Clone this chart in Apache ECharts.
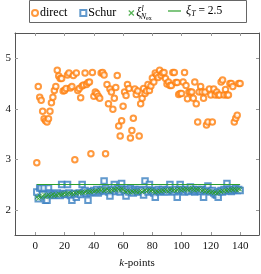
<!DOCTYPE html>
<html><head><meta charset="utf-8">
<script src="https://cdn.jsdelivr.net/npm/echarts@6/dist/echarts.min.js"></script>
<style>html,body{margin:0;padding:0;background:#fff}#c{width:261px;height:274px}</style>
</head><body><div id="c"></div>
<script>
const kStart = 1;
const xTicks = [0, 20, 40, 60, 80, 100, 120, 140];
const yTicks = [2, 3, 4, 5];
const xiT = 2.5;
const direct = [2.93,4.44,4.23,4.17,3.95,3.80,3.76,3.74,3.80,3.95,
4.12,4.23,4.36,4.44,4.76,4.65,4.60,4.60,4.35,4.36,
4.40,4.67,4.71,4.41,4.44,4.66,2.99,4.71,4.36,4.40,
4.22,4.45,4.47,4.71,4.48,4.52,4.53,3.11,4.72,4.25,
4.33,4.30,4.25,4.21,4.71,4.72,4.67,3.11,4.48,4.10,
4.39,4.33,3.99,4.21,4.42,4.66,3.66,3.46,3.76,4.05,
4.33,4.26,4.48,4.40,3.42,3.57,3.81,4.39,4.28,4.35,
3.46,4.10,4.21,4.40,4.30,4.35,4.48,4.36,4.45,4.61,
4.53,4.71,4.67,4.62,4.76,4.66,4.71,4.72,4.60,4.49,
4.53,4.46,4.46,4.72,4.72,4.52,4.52,4.28,4.30,4.30,
4.53,4.72,4.46,4.20,4.33,4.33,4.33,4.21,4.53,4.10,
3.74,4.33,4.44,4.33,4.21,4.33,3.68,3.74,4.39,4.27,
3.74,4.39,4.27,4.33,4.27,4.27,4.53,4.57,4.27,4.38,
4.27,4.27,4.50,4.50,4.44,3.74,3.81,3.87,4.50,4.50];
const schur = [2.35,2.22,2.43,2.43,2.30,2.43,2.19,2.19,2.43,2.33,
2.30,2.28,2.31,2.29,2.33,2.30,2.28,2.50,2.32,2.30,
2.31,2.50,2.33,2.28,2.19,2.30,2.32,2.25,2.31,2.33,
2.30,2.50,2.34,2.38,2.32,2.19,2.35,2.33,2.36,2.38,
2.35,2.40,2.33,2.36,2.38,2.40,2.57,2.42,2.37,2.35,
2.27,2.38,2.40,2.50,2.36,2.42,2.38,2.35,2.52,2.40,
2.37,2.27,2.40,2.35,2.42,2.38,2.33,2.40,2.37,2.35,
2.40,2.36,2.38,2.29,2.57,2.40,2.35,2.50,2.38,2.36,
2.33,2.25,2.38,2.40,2.35,2.37,2.40,2.36,2.38,2.35,
2.40,2.50,2.37,2.38,2.35,2.40,2.25,2.38,2.50,2.40,
2.37,2.35,2.40,2.38,2.36,2.45,2.38,2.40,2.35,2.37,
2.40,2.38,2.36,2.40,2.25,2.38,2.40,2.47,2.37,2.35,
2.38,2.33,2.30,2.29,2.25,2.36,2.38,2.35,2.40,2.37,
2.52,2.38,2.40,2.36,2.38,2.40,2.42,2.38,2.40,2.38];
const xiNex = [2.25,2.22,2.28,2.24,2.27,2.30,2.25,2.28,2.30,2.26,
2.29,2.31,2.27,2.30,2.28,2.32,2.30,2.29,2.31,2.33,
2.30,2.32,2.34,2.31,2.33,2.30,2.34,2.32,2.35,2.33,
2.34,2.36,2.33,2.35,2.37,2.34,2.36,2.35,2.38,2.36,
2.37,2.39,2.36,2.40,2.38,2.41,2.37,2.39,2.42,2.38,
2.36,2.40,2.38,2.41,2.39,2.43,2.40,2.38,2.42,2.40,
2.37,2.35,2.38,2.36,2.34,2.37,2.35,2.38,2.36,2.34,
2.36,2.38,2.35,2.37,2.39,2.36,2.38,2.40,2.37,2.39,
2.36,2.34,2.37,2.35,2.38,2.36,2.39,2.37,2.40,2.38,
2.36,2.39,2.41,2.38,2.40,2.37,2.39,2.42,2.40,2.38,
2.41,2.39,2.42,2.40,2.38,2.41,2.43,2.40,2.38,2.41,
2.39,2.42,2.40,2.37,2.39,2.36,2.38,2.35,2.37,2.34,
2.36,2.33,2.35,2.32,2.34,2.37,2.35,2.38,2.36,2.39,
2.37,2.40,2.38,2.41,2.39,2.42,2.40,2.38,2.41,2.40];

const pairs = arr => arr.map((v, i) => [kStart + i, v]);
const kLast = kStart + direct.length - 1;
const FONT = '"Liberation Serif", "DejaVu Serif", serif';
const ORANGE = '#ff7f0e', BLUE = '#3a7fc1', GREEN = '#2ca02c';
const AX = '#555';
const X_ICON = 'path://M0,1.5L1.5,0L5,3.5L8.5,0L10,1.5L6.5,5L10,8.5L8.5,10L5,6.5L1.5,10L0,8.5L3.5,5Z';

const chart = echarts.init(document.getElementById('c'), null, {renderer: 'canvas'});
const rich = {
  n: {fontFamily: FONT, fontSize: 12, color: '#000'},
  m: {fontFamily: FONT, fontSize: 11.5, color: '#000'},
  g: {fontFamily: FONT, fontSize: 12, fontStyle: 'italic', color: '#000'},
  sup: {fontFamily: FONT, fontSize: 8, fontStyle: 'italic', color: '#000', padding: [0, 0, 8, 0]},
  sub: {fontFamily: FONT, fontSize: 8, fontStyle: 'italic', color: '#000', padding: [8, 0, 0, -3]},
  sub2: {fontFamily: FONT, fontSize: 6, color: '#000', padding: [11, 0, 0, 0]},
  subT: {fontFamily: FONT, fontSize: 8, fontStyle: 'italic', color: '#000', padding: [6, 0, 0, 0]}
};
const legendText = {
  direct: '{n|direct}',
  Schur: '{n|Schur}',
  xi: '{g|ξ}{sup|l}{sub|N}{sub2|ex}',
  xiT: '{g|ξ}{subT|T}{m| = 2.5}'
};
chart.setOption({
  animation: false,
  grid: {left: 15, right: 2, top: 33, bottom: 37, containLabel: false},
  graphic: [{type: 'rect', shape: {x: 29.5, y: 0.5, width: 217, height: 22}, style: {fill: 'none', stroke: '#666', lineWidth: 1}, z: 10}],
  legend: [
    {data: [
       {name: 'direct', icon: 'emptyCircle'},
       {name: 'Schur', icon: 'emptyRect'},
       {name: 'xi', icon: X_ICON, itemStyle: {color: GREEN, borderWidth: 0}}
     ], left: 29, top: 3, itemWidth: 6, itemHeight: 6, itemGap: 12, padding: 2,
     textStyle: {rich: rich, padding: [0, 0, 0, -3]}, formatter: n => legendText[n]},
    {data: [{name: 'xiT', icon: 'rect', itemStyle: {color: GREEN, borderWidth: 0}}],
     left: 166, top: 3, itemWidth: 13, itemHeight: 1.2, padding: 2,
     textStyle: {rich: rich, padding: [0, 0, 0, 0]}, formatter: n => legendText[n]}
  ],
  xAxis: [
    {type: 'value', min: -13.9, max: 152.9, position: 'bottom',
     axisLine: {onZero: false, lineStyle: {color: AX, width: 1}},
     axisTick: {inside: true, length: 3, customValues: xTicks, lineStyle: {color: '#999'}},
     axisLabel: {customValues: xTicks, fontFamily: FONT, fontSize: 11, color: '#111', margin: 6},
     splitLine: {show: false},
     name: '{i|k}-points', nameLocation: 'middle', nameGap: 23,
     nameTextStyle: {fontFamily: FONT, fontSize: 11, color: '#111', rich: {i: {fontFamily: FONT, fontStyle: 'italic', fontSize: 11, color: '#111'}}}},
    {type: 'value', min: -13.9, max: 152.9, position: 'top',
     axisLine: {onZero: false, lineStyle: {color: AX, width: 1}},
     axisTick: {inside: true, length: 3, customValues: xTicks, lineStyle: {color: '#999'}},
     axisLabel: {show: false}, splitLine: {show: false}}
  ],
  yAxis: [
    {type: 'value', min: 1.5, max: 5.5, position: 'left',
     axisLine: {show: true, onZero: false, lineStyle: {color: AX, width: 1}},
     axisTick: {show: true, inside: true, length: 3, customValues: yTicks, lineStyle: {color: '#999'}},
     axisLabel: {customValues: yTicks, fontFamily: FONT, fontSize: 11, color: '#111', margin: 4},
     splitLine: {show: false}},
    {type: 'value', min: 1.5, max: 5.5, position: 'right',
     axisLine: {show: true, onZero: false, lineStyle: {color: AX, width: 1}},
     axisTick: {show: true, inside: true, length: 3, customValues: yTicks, lineStyle: {color: '#999'}},
     axisLabel: {show: false}, splitLine: {show: false}}
  ],
  series: [
    {name: 'direct', type: 'scatter', data: pairs(direct), symbol: 'emptyCircle', symbolSize: 5.5,
     itemStyle: {color: ORANGE, borderColor: ORANGE, borderWidth: 0.9}, z: 2},
    {name: 'Schur', type: 'scatter', data: pairs(schur), symbol: 'emptyRect', symbolSize: 5.5,
     itemStyle: {color: BLUE, borderColor: BLUE, borderWidth: 0.9}, z: 3},
    {name: 'xi', type: 'scatter', data: pairs(xiNex), symbol: 'path://M0,0L10,10M10,0L0,10', symbolSize: 4,
     itemStyle: {color: 'rgba(0,0,0,0)', borderColor: GREEN, borderWidth: 1}, z: 4},
    {name: 'xiT', type: 'line', data: [[kStart, xiT], [kLast, xiT]], symbol: 'none',
     lineStyle: {color: GREEN, width: 1}, itemStyle: {color: GREEN}, z: 5}
  ]
});
</script></body></html>
